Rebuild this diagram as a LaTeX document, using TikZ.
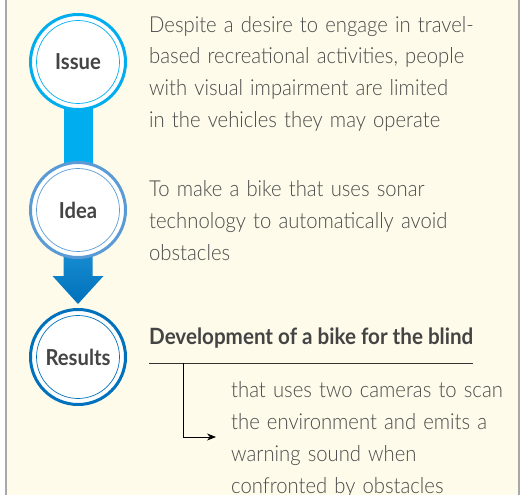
\documentclass[tikz,border=0pt]{standalone}
\usepackage{fontspec}
\setmainfont{Lato}[FakeStretch=0.92]
\newfontfamily\lightfont{Lato}[UprightFont={* Light}, FakeStretch=0.92, WordSpace=1.3]
\usetikzlibrary{arrows.meta}
\definecolor{cream}{HTML}{FEFBEA}
\definecolor{frame}{HTML}{A8A8A8}
\definecolor{issuec}{HTML}{00AEEF}
\definecolor{ideac}{HTML}{5B9BD5}
\definecolor{resc}{HTML}{0071BC}
\definecolor{arrtop}{HTML}{2AA5E4}
\definecolor{arrbot}{HTML}{0070BA}
\definecolor{txt}{HTML}{4A4A4A}
\definecolor{lbl}{HTML}{444444}
\tikzset{
  stage/.style={circle, minimum size=95pt, inner sep=0pt, line width=3pt, fill=white,
    font=\fontsize{22}{26}\selectfont\bfseries, text=lbl},
  body/.style={anchor=base west, align=left, inner sep=0pt, text=txt,
    font=\fontsize{22}{32}\selectfont\lightfont},
  headtxt/.style={anchor=base west, inner sep=0pt, text=lbl,
    font=\fontsize{22.4}{26}\selectfont\bfseries}
}
\begin{document}
\begin{tikzpicture}[x=1pt,y=-1pt]
\useasboundingbox (0,0) rectangle (523,495);
\fill[white] (0,0) rectangle (523,495);
\fill[cream] (6,0) rectangle (519,495);
\draw[frame, line width=1.5pt] (6,0) -- (6,495);
\draw[frame, line width=1.5pt] (519,0) -- (519,495);

\coordinate (ci) at (78,62);
\coordinate (cd) at (78,210);
\coordinate (cr) at (78,357);

% stem Issue -> Idea
\fill[issuec] ([xshift=-14.5pt]ci) rectangle ([xshift=14.5pt]cd);
% arrow Idea -> Results
\shade[top color=arrtop, bottom color=arrbot]
  ([xshift=-14.5pt]cd) -- ([xshift=14.5pt]cd) -- ([xshift=14.5pt,yshift=-66pt]cd)
  -- ([xshift=25.5pt,yshift=-66pt]cd) -- ([yshift=-94pt]cd) -- ([xshift=-25.5pt,yshift=-66pt]cd)
  -- ([xshift=-14.5pt,yshift=-66pt]cd) -- cycle;

\node[stage, draw=issuec] (issue) at (ci) {Issue};
\draw[issuec, line width=0.7pt] (issue.center) circle (41.5pt);
\node[stage, draw=ideac] (idea) at (cd) {Idea};
\draw[ideac, line width=0.7pt] (idea.center) circle (41.5pt);
\node[stage, draw=resc] (res) at (cr) {Results};
\draw[resc, line width=0.7pt] (res.center) circle (41.5pt);

% anchor = baseline of the last line
\node[body] (t1) at (149,128) {Despite a desire to engage in travel-\\based recreational activities, people\\with visual impairment are limited\\in the vehicles they may operate};
\node[body] (t2) at (149,260) {To make a bike that uses sonar\\technology to automatically avoid\\obstacles};
\node[headtxt] (head) at (149,344) {Development of a bike for the blind};
\node[body] (t3) at (231,493) {that uses two cameras to scan\\the environment and emits a\\warning sound when\\confronted by obstacles};

\coordinate (ul) at (149,363);
\coordinate (ur) at (473,363);
\coordinate (vt) at (183,363);
\coordinate (vb) at (183,437);
\coordinate (ae) at (216,437);
\draw[black!80, line width=0.8pt] (ul) -- (ur);
\draw[black, line width=0.8pt, -{Stealth[length=9pt,width=7pt]}] (vt) -- (vb) -- (ae);
\end{tikzpicture}
\end{document}
